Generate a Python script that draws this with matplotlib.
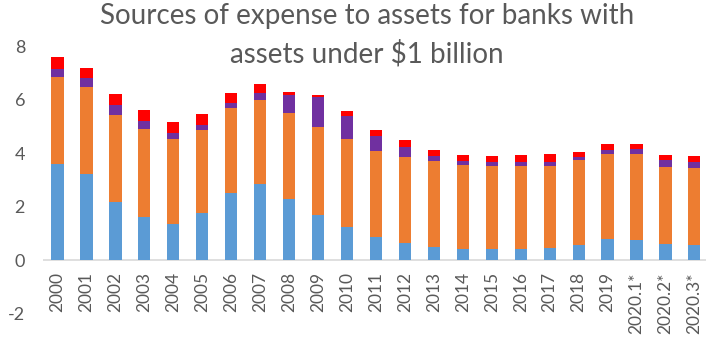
import numpy as np
import matplotlib.pyplot as plt
from matplotlib.transforms import offset_copy

plt.rcParams['font.family'] = ['Lato', 'DejaVu Sans']
plt.rcParams['axes.unicode_minus'] = False

years = ['2000', '2001', '2002', '2003', '2004', '2005', '2006', '2007', '2008', '2009',
         '2010', '2011', '2012', '2013', '2014', '2015', '2016', '2017', '2018', '2019',
         '2020.1*', '2020.2*', '2020.3*']

blue = [3.59, 3.21, 2.17, 1.61, 1.37, 1.77, 2.50, 2.85, 2.29, 1.68,
        1.25, 0.88, 0.66, 0.49, 0.41, 0.41, 0.41, 0.45, 0.59, 0.80,
        0.77, 0.60, 0.57]
orange = [3.25, 3.27, 3.26, 3.31, 3.18, 3.10, 3.18, 3.14, 3.23, 3.32,
          3.30, 3.22, 3.20, 3.21, 3.17, 3.13, 3.13, 3.09, 3.15, 3.18,
          3.21, 2.90, 2.89]
purple = [0.30, 0.32, 0.36, 0.29, 0.21, 0.20, 0.20, 0.25, 0.67, 1.12,
          0.85, 0.56, 0.36, 0.19, 0.12, 0.14, 0.14, 0.14, 0.11, 0.16,
          0.18, 0.24, 0.21]
red = [0.47, 0.40, 0.42, 0.40, 0.40, 0.41, 0.36, 0.34, 0.09, 0.05,
       0.17, 0.22, 0.27, 0.22, 0.25, 0.23, 0.27, 0.31, 0.21, 0.21,
       0.19, 0.21, 0.23]

series = [blue, orange, purple, red]
colors = ['#5B9BD5', '#ED7D31', '#7030A0', '#FF0000']

fig = plt.figure(figsize=(7.06, 3.43), dpi=100)
ax = fig.add_axes([0.061, 0.085, 0.939, 0.78])

x = np.arange(len(years))
bottom = np.zeros(len(years))
for vals, c in zip(series, colors):
    ax.bar(x, vals, 0.42, bottom=bottom, color=c)
    bottom += np.array(vals)

ax.set_xlim(-0.5, 22.4)
ax.set_ylim(-2, 8)
ax.set_yticks([-2, 0, 2, 4, 6, 8])
ax.set_xticks([])
ax.tick_params(axis='y', length=0, pad=13, labelsize=13, labelcolor='#595959')
for s in ['top', 'right', 'left', 'bottom']:
    ax.spines[s].set_visible(False)
ax.axhline(0, color='#D9D9D9', lw=1.2, zorder=0)

# category labels hang just under the zero line
trans = offset_copy(ax.transData, fig=fig, x=0, y=-12, units='dots')
for xi, lab in zip(x, years):
    ax.text(xi, 0, lab, rotation=90, ha='center', va='top', fontsize=12.5,
            color='#595959', transform=trans)

fig.suptitle('Sources of expense to assets for banks with\nassets under $1 billion',
             x=0.52, y=0.99, fontsize=20, color='#595959', linespacing=1.45)

fig.savefig('out.png', dpi=100)
